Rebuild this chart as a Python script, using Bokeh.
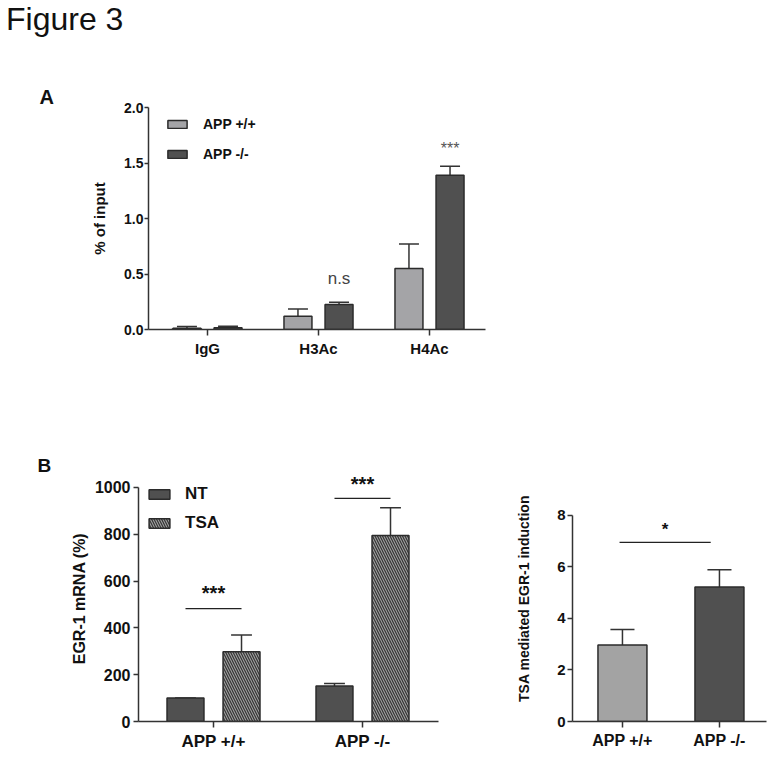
from bokeh.plotting import figure
from bokeh.models import (FixedTicker, Label, Legend, LegendItem, Div,
                          NumeralTickFormatter, Range1d)
from bokeh.layouts import column, row
from bokeh.embed import file_html
from bokeh.resources import INLINE

# ---------------- data ----------------
# Panel A: ChIP (% of input)
a_categories = ["IgG", "H3Ac", "H4Ac"]
a_series = ["APP +/+", "APP -/-"]
a_wt = [0.012, 0.12, 0.55]
a_wt_err = [0.015, 0.065, 0.22]
a_ko = [0.015, 0.226, 1.39]
a_ko_err = [0.015, 0.02, 0.08]
a_yticks = [0.0, 0.5, 1.0, 1.5, 2.0]

# Panel B left: EGR-1 mRNA (%)
b_categories = ["APP +/+", "APP -/-"]
b_series = ["NT", "TSA"]
b_nt = [100, 152]
b_nt_err = [0, 10]
b_tsa = [298, 795]
b_tsa_err = [72, 118]
b_yticks = [0, 200, 400, 600, 800, 1000]
b_sig_line_y = [482, 953]
b_sig_text_y = [550, 1013]
b_sig_text = ["***", "***"]

# Panel B right: TSA mediated EGR-1 induction
c_categories = ["APP +/+", "APP -/-"]
c_values = [2.97, 5.22]
c_err = [0.60, 0.67]
c_yticks = [0, 2, 4, 6, 8]
c_sig_x = [-0.03, 0.91]
c_sig_line_y = 6.95
c_sig_text_y = 7.45

# ---------------- style ----------------
FONT = "Liberation Sans"
AX = "#333333"
EDGE = "#2b2b2b"
LIGHT = "#a4a4a7"
DARK = "#505050"
TXT = "#111111"


def make_fig(w, h, bl, br, bt, bb, xr, yr, title=None):
    p = figure(width=w, height=h, x_range=Range1d(*xr), y_range=Range1d(*yr),
               output_backend="svg", toolbar_location=None, title=title,
               min_border_left=bl, min_border_right=br,
               min_border_top=bt, min_border_bottom=bb)
    p.grid.visible = False
    p.outline_line_color = None
    return p


def style_axes(p, ticks_x, labels_x, yticks, tick_fs, xlab_fs, ylabel, ylab_fs,
               ylab_standoff, ytick_standoff):
    for ax in (p.xaxis[0], p.yaxis[0]):
        ax.axis_line_color = AX
        ax.axis_line_width = 1.5
        ax.major_tick_line_color = AX
        ax.major_tick_line_width = 1.5
        ax.major_tick_in = 0
        ax.major_tick_out = 5
        ax.minor_tick_line_color = None
        ax.major_label_text_font = FONT
        ax.major_label_text_font_style = "bold"
        ax.major_label_text_color = TXT
    p.xaxis.ticker = FixedTicker(ticks=ticks_x)
    p.xaxis.major_label_overrides = {t: l for t, l in zip(ticks_x, labels_x)}
    p.xaxis.major_label_text_font_size = xlab_fs
    p.xaxis.major_tick_out = 6
    p.xaxis.major_label_standoff = 4
    p.yaxis.ticker = FixedTicker(ticks=yticks)
    p.yaxis.major_label_text_font_size = tick_fs
    p.yaxis.major_label_standoff = ytick_standoff
    p.yaxis.axis_label = ylabel
    p.yaxis.axis_label_text_font = FONT
    p.yaxis.axis_label_text_font_style = "bold"
    p.yaxis.axis_label_text_font_size = ylab_fs
    p.yaxis.axis_label_text_color = TXT
    p.yaxis.axis_label_standoff = ylab_standoff


def error_bars(p, xs, vals, errs, cap):
    top = [v + e for v, e in zip(vals, errs)]
    p.segment(x0=xs, y0=vals, x1=xs, y1=top, line_color=AX, line_width=1.5)
    p.segment(x0=[x - cap for x in xs], y0=top, x1=[x + cap for x in xs], y1=top,
              line_color=AX, line_width=1.5)


def panel_title(p, text, size, offset):
    p.title.text = text
    p.title.text_font = FONT
    p.title.text_font_size = size
    p.title.text_font_style = "bold"
    p.title.text_color = TXT
    p.title.align = "left"
    p.title.offset = offset
    p.title.standoff = 0


# ---------------- "Figure 3" heading ----------------
head = Div(text='<div style="position:relative; left:6px; top:0px; '
                'font-family:\'Liberation Sans\'; font-size:32px; line-height:38px; '
                'color:#111111;">Figure 3</div>',
           width=776, height=50, margin=0)

# ---------------- Panel A ----------------
a_xr = (-0.5315, 2.5045)
a_yr = (0.0, 2.0)
pa = make_fig(776, 390, 148, 291, 57, 111, a_xr, a_yr, title="A")
panel_title(pa, "A", "20px", -109)
a_x = list(range(len(a_categories)))
off, bw = 0.185, 0.252
x_wt = [x - off for x in a_x]
x_ko = [x + off for x in a_x]
error_bars(pa, x_wt, a_wt, a_wt_err, 0.09)
error_bars(pa, x_ko, a_ko, a_ko_err, 0.09)
r_wt = pa.vbar(x=x_wt, top=a_wt, width=bw, fill_color=LIGHT, line_color=EDGE, line_width=1.5)
r_ko = pa.vbar(x=x_ko, top=a_ko, width=bw, fill_color=DARK, line_color=EDGE, line_width=1.5)
style_axes(pa, a_x, a_categories, a_yticks, "14px", "15px", "% of input", "15px", 13, 1)
pa.yaxis.major_tick_out = 4
pa.yaxis.formatter = NumeralTickFormatter(format="0.0")
leg_a = Legend(items=[LegendItem(label=a_series[0], renderers=[r_wt]),
                      LegendItem(label=a_series[1], renderers=[r_ko])],
               location=(17, 165.5), margin=0, padding=0, spacing=10,
               glyph_width=24, glyph_height=10, label_height=20, label_standoff=14,
               label_text_font=FONT, label_text_font_style="bold",
               label_text_font_size="14px", label_text_color=TXT,
               border_line_color=None, background_fill_alpha=0)
pa.add_layout(leg_a, "center")
pa.add_layout(Label(x=2 + off, y=1.63, text="***", text_font=FONT, text_font_size="16px",
                    text_color="#555555", text_align="center", text_baseline="alphabetic"))
pa.add_layout(Label(x=1 + off, y=0.46, text="n.s", text_font=FONT, text_font_size="17px",
                    text_color="#444444", text_align="center", text_baseline="middle"))

# ---------------- Panel B left ----------------
b_xr = (-0.5034, 1.5101)
b_yr = (0, 1051.06)
pb = make_fig(480, 313, 138, 42, 35, 31, b_xr, b_yr, title="B")
panel_title(pb, "B", "19px", -101)
b_x = list(range(len(b_categories)))
boff, bbw = 0.188, 0.248
x_nt = [x - boff for x in b_x]
x_tsa = [x + boff for x in b_x]
error_bars(pb, x_nt, b_nt, b_nt_err, 0.07)
error_bars(pb, x_tsa, b_tsa, b_tsa_err, 0.07)
r_nt = pb.vbar(x=x_nt, top=b_nt, width=bbw, fill_color=DARK, line_color=EDGE, line_width=1.5)
r_tsa = pb.vbar(x=x_tsa, top=b_tsa, width=bbw, fill_color="#a0a0a0", line_color=EDGE,
                line_width=1.5, hatch_pattern="\\", hatch_color="#333333",
                hatch_scale=5, hatch_weight=1.2)
pb.segment(x0=x_nt, y0=b_sig_line_y, x1=x_tsa, y1=b_sig_line_y, line_color="#222222", line_width=1.2)
for xc, ty, t in zip(b_x, b_sig_text_y, b_sig_text):
    pb.add_layout(Label(x=xc, y=ty, text=t, text_font=FONT, text_font_size="20px",
                        text_font_style="bold", text_color=TXT,
                        text_align="center", text_baseline="alphabetic"))
style_axes(pb, b_x, b_categories, b_yticks, "16px", "17px", "EGR-1 mRNA (%)", "16px", 4, 3)
pb.yaxis.bounds = (0, 1000)
leg_b = Legend(items=[LegendItem(label=b_series[0], renderers=[r_nt]),
                      LegendItem(label=b_series[1], renderers=[r_tsa])],
               location=(8, 188), margin=0, padding=0, spacing=9,
               glyph_width=26, glyph_height=12, label_height=20, label_standoff=13,
               label_text_font=FONT, label_text_font_style="bold",
               label_text_font_size="17px", label_text_color=TXT,
               border_line_color=None, background_fill_alpha=0)
pb.add_layout(leg_b, "center")

# ---------------- Panel B right ----------------
c_xr = (-0.515, 1.485)
c_yr = (0, 9.546)
pc = make_fig(288, 313, 92, 2, 35, 31, c_xr, c_yr)
c_x = list(range(len(c_categories)))
error_bars(pc, c_x, c_values, c_err, 0.124)
pc.vbar(x=c_x, top=c_values, width=0.505, fill_color=["#a3a3a3", DARK],
        line_color=EDGE, line_width=1.5)
pc.segment(x0=[c_sig_x[0]], y0=[c_sig_line_y], x1=[c_sig_x[1]], y1=[c_sig_line_y],
           line_color="#222222", line_width=1.2)
pc.add_layout(Label(x=(c_sig_x[0] + c_sig_x[1]) / 2, y=c_sig_text_y, text="*", text_font=FONT,
                    text_font_size="17px", text_font_style="bold", text_color=TXT,
                    text_align="center", text_baseline="alphabetic"))
style_axes(pc, c_x, c_categories, c_yticks, "15px", "16px",
           "TSA mediated EGR-1 induction", "14px", 22, 2)
pc.yaxis.bounds = (0, 8)

layout = column(head, pa, row(pb, pc))
open("out.html", "w").write(file_html(layout, INLINE))
